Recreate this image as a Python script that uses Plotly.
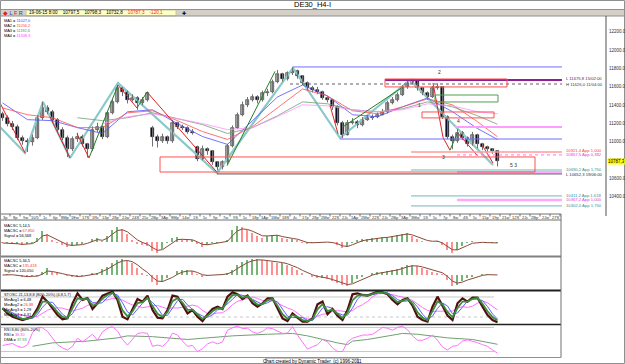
import plotly.graph_objects as go
import pandas as pd

W, H = 625, 364
def px(x): return x / W
def py(y): return 1 - y / H

# ---------------- data ----------------
closes = [
    11264, 11200, 11167, 11048, 11005, 10994, 11048, 11264, 11372, 11329,
    11243, 11135, 11048, 10919, 11027, 11059, 10973, 10919, 11135, 11167,
    11059, 11318, 11437, 11588, 11545, 11459, 11480, 11426, 11459, 11534,
    11059, 11005, 11059, 11005, 11210, 11167, 11156, 11113, 11102, 10811,
    10919, 10897, 10778, 10724, 10778, 10951, 11156, 11297, 11405, 11459,
    11491, 11459, 11534, 11545, 11653, 11740, 11686, 11750, 11772, 11718,
    11642, 11588, 11567, 11545, 11480, 11459, 11383, 11210, 11081, 11210,
    11221, 11189, 11243, 11264, 11275, 11297, 11329, 11426, 11459, 11513,
    11599, 11642, 11664, 11588, 11534, 11491, 11588, 11599, 11275, 11059,
    11005, 11102, 11048, 10973, 11081, 10973, 10940, 10919, 10897, 10787.3]
highs = [
    11330, 11290, 11230, 11190, 11070, 11040, 11080, 11290, 11440, 11400,
    11350, 11260, 11160, 11070, 11060, 11100, 11080, 10990, 11170, 11210,
    11180, 11340, 11470, 11620, 11600, 11560, 11520, 11500, 11490, 11550,
    11175, 11080, 11090, 11070, 11240, 11220, 11190, 11170, 11140, 10960,
    10960, 10940, 10910, 10790, 10800, 10980, 11180, 11320, 11440, 11490,
    11520, 11510, 11560, 11580, 11680, 11785, 11755, 11770, 11815, 11790,
    11730, 11660, 11610, 11600, 11560, 11500, 11470, 11400, 11230, 11240,
    11260, 11240, 11270, 11290, 11300, 11320, 11360, 11450, 11490, 11540,
    11620, 11670, 11690, 11680, 11600, 11550, 11610, 11640, 11610, 11290,
    11080, 11140, 11120, 11060, 11110, 11090, 10990, 10960, 10930, 10910]
lows = [
    11230, 11170, 11130, 11020, 10970, 10890, 10960, 11030, 11240, 11300,
    11210, 11100, 11020, 10835, 10900, 11000, 10950, 10830, 10900, 11110,
    11030, 11040, 11300, 11420, 11500, 11420, 11440, 11350, 11400, 11440,
    10950, 10940, 10990, 10980, 10990, 11140, 11130, 11090, 11080, 10790,
    10800, 10860, 10750, 10690, 10700, 10760, 10940, 11140, 11280, 11380,
    11440, 11420, 11440, 11500, 11530, 11640, 11660, 11670, 11730, 11690,
    11620, 11560, 11540, 11520, 11460, 11430, 11350, 11180, 11040, 11070,
    11190, 11150, 11170, 11230, 11240, 11260, 11290, 11310, 11410, 11440,
    11500, 11580, 11630, 11560, 11510, 11460, 11480, 11570, 11250, 11030,
    10920, 10990, 11020, 10950, 10960, 10930, 10910, 10890, 10870, 10733]
opens = [11300] + closes[:-1]
opens[30] = 11150   # gap down
opens[39] = 10950   # gap down
bars = list(range(len(closes)))

ma_idx = list(range(0, 100, 5)) + [99]
ma1 = [11426, 11243, 11232, 11156, 11092, 11329, 11351, 11200, 11059, 10973, 11232,
       11491, 11621, 11502, 11297, 11275, 11383, 11480, 11329, 11146, 11027]
ma2 = [11372, 11297, 11264, 11156, 11156, 11318, 11340, 11232, 11113, 11027, 11167,
       11372, 11578, 11502, 11340, 11308, 11383, 11470, 11405, 11221, 11056]
ma3_idx = list(range(15, 100, 5)) + [99]
ma3 = [11264, 11232, 11264, 11318, 11254, 11189, 11092, 11156, 11286, 11437, 11416,
       11351, 11329, 11362, 11437, 11383, 11286, 11193]
ma4_idx = list(range(20, 100, 5)) + [99]
ma4 = [11200, 11275, 11308, 11254, 11200, 11135, 11156, 11275, 11405, 11394, 11351,
       11329, 11351, 11416, 11394, 11329, 11308]

# swing (zig-zag) pivots
swing_x = [-0.5, 4.5, 8.1, 13.5, 23.1, 42.9, 58.1, 67.5, 81.5, 98.1]
swing_p = [11163, 10880, 11436, 10825, 11643, 10661, 11807, 11043, 11676, 10749]
down_legs = [[(-0.5, 11426), (4.5, 10880)], [(9.5, 11275), (13.5, 10825)],
             [(14.9, 11090), (17.3, 10825)], [(23.1, 11620), (26.9, 11370)],
             [(28.9, 11545), (42.9, 10670)], [(65.5, 11400), (67.1, 11090)],
             [(86.1, 11643), (88.1, 11050)], [(88.1, 11050), (89.5, 10910)],
             [(91.0, 11100), (95.0, 10850)], [(96.0, 10960), (98.1, 10770)]]
up_legs = [[(17.3, 10825), (23.1, 11620)], [(26.9, 11370), (28.9, 11545)],
           [(44.9, 10740), (54.5, 11770)], [(68.1, 11165), (80.1, 11600)],
           [(89.5, 10910), (91.0, 11100)]]

# horizontal levels: price, start bar, colour, width, dash
levels = [
    (11818, 58.1, '#6f6fff', 1, 'solid'),
    (11676, 76.5, '#902090', 2, 'solid'),
    (11632, 57.5, '#606060', 1, 'dot'),
    (11163, 90.5, '#ff9cff', 2, 'solid'),
    (11032, 67.5, '#6f6fff', 1, 'solid'),
    (10891, 81.7, '#ff9a9a', 1.5, 'solid'),
    (10858, 90.9, '#ff70ff', 1, 'dot'),
    (10694, 81.7, '#70b8b8', 1, 'solid'),
    (10672, 90.9, '#ffa8ff', 2, 'solid'),
    (10651, 42.9, '#505050', 1, 'solid'),
    (10411, 81.7, '#70b8b8', 1, 'solid'),
    (10367, 90.9, '#ffa8ff', 2.5, 'solid'),
    (10302, 81.7, '#70b8b8', 1, 'solid'),
]
level_end = 111.9
boxes = [  # x0, x1, p0, p1, colour
    (76.5, 100.9, 11600, 11687, '#ff5050'),
    (86.5, 99.1, 11436, 11512, '#50a050'),
    (83.9, 98.3, 11262, 11327, '#ff5050'),
    (31.5, 106.5, 10672, 10836, '#ff5050'),
]
right_labels = [
    ("L 11675,8 15/02:00", 11690, '#602060'),
    ("H 11626,0 11/04:00", 11630, '#404040'),
    ("10921,4 App 1,000", 10905, '#ff4040'),
    ("10857,5 App 0,382", 10858, '#e040e0'),
    ("10690,2 App 1,750", 10700, '#409090'),
    ("L 10652,3 19/06:00", 10648, '#303030'),
    ("10411,2 App 1,618", 10418, '#409090'),
    ("10367,2 App 1,000", 10367, '#e040e0'),
    ("10302,0 App 1,750", 10302, '#409090'),
]
wave_labels = [("2", 87.3, 11760), ("1", 83.3, 11400), ("4", 91.1, 11230),
               ("3", 88.1, 10835), ("5 3", 102.1, 10750)]

price_ticks = [10400, 10600, 10800, 11000, 11200, 11400, 11600, 11800, 12000, 12200]

# oscillators
macsc1 = [-25, -25, -50, -50, -75, -50, -25, 100, 275, 200,
          50, -25, -75, -125, -100, -75, -50, 0, 75, 100,
          25, 150, 300, 375, 325, 200, 50, -50, -75, -100,
          -225, -275, -175, -25, 100, 125, 75, 50, 50, -50,
          -125, -75, -25, -25, 0, 50, 300, 400, 375, 300,
          225, 150, 100, 150, 175, 175, 100, 75, 75, 50,
          -25, -50, -25, 0, 0, 0, -25, -75, -150, -125,
          -25, 50, 75, 75, 100, 100, 125, 125, 150, 175,
          200, 225, 150, 75, 25, 0, 0, 25, -75, -200,
          -275, -200, -100, -25, 25, 0, 0, -25, -25, -25]
macsc2 = [0, 25, 0, -25, -50, -50, -25, -25, 75, 175,
          75, 50, 0, -25, -50, -50, -25, 0, 50, 50,
          150, 200, 300, 375, 400, 375, 300, 175, 50, -25,
          -175, -250, -175, -75, 0, 100, 125, 125, 100, 25,
          -50, -25, 0, 0, 25, 50, 125, 250, 325, 375,
          400, 400, 375, 350, 325, 300, 300, 250, 200, 125,
          50, 0, -50, -75, -75, -100, -150, -200, -250, -275,
          -200, -100, -50, 0, 50, 75, 75, 100, 125, 150,
          200, 250, 250, 225, 175, 125, 75, 50, 25, -125,
          -275, -250, -150, -75, -50, 0, 25, 25, 0, 0]
stoch_k = [46, 31, 21, 16, 11, 16, 21, 46, 81, 66,
           46, 26, 13, 16, 61, 91, 71, 76, 44, 61,
           84, 91, 96, 71, 21, 13, 44, 74, 66, 84,
           41, 18, 16, 41, 84, 81, 56, 31, 41, 21,
           8, 28, 44, 51, 44, 81, 94, 88, 74, 84,
           61, 51, 61, 76, 76, 44, 16, 8, 31, 18,
           6, 6, 16, 58, 66, 28, 44, 24, 11, 41,
           88, 91, 86, 84, 91, 96, 94, 88, 71, 58,
           71, 76, 54, 21, 11, 6, 51, 81, 54, 24,
           11, 61, 76, 66, 78, 78, 51, 26, 11, 4]
rsi = [35, 37, 40, 33, 30, 37, 67, 80, 79, 70,
       53, 37, 29, 24, 33, 53, 44, 54, 63, 48,
       69, 78, 82, 71, 50, 36, 52, 65, 67, 65,
       33, 36, 33, 44, 66, 61, 46, 33, 35, 20,
       27, 39, 44, 39, 44, 73, 79, 83, 77, 78,
       69, 65, 70, 79, 77, 71, 65, 66, 82, 61,
       42, 26, 32, 37, 50, 44, 29, 20, 20, 44,
       53, 57, 61, 61, 63, 71, 80, 78, 73, 80,
       83, 74, 59, 48, 48, 53, 61, 48, 31, 24,
       33, 35, 46, 49, 46, 42, 37, 33, 24, 16]
dma_idx = [6, 10, 17, 23, 25, 30, 37, 40, 46, 53, 58, 61, 64, 67, 69, 70, 73, 77, 80, 83, 89, 94, 99]
dma = [33, 41.5, 46, 54, 59, 57, 50, 53, 59, 63, 65, 59, 50, 41.5, 37, 46, 50, 59, 65, 63, 54, 50, 38]

date_labels = ["3p", "8p", "9w", "10/5", "1c", "6p", "8Mp", "1Ew", "17S", "1Rc",
               "13p", "28p", "2Jw", "24S", "25c", "2Bp", "3Ap", "8Mp", "14w", "1S",
               "5c", "9p", "7w", "9S", "5c", "18p", "1Ap", "1Mw", "18S", "4c",
               "17p", "28p", "2Mw", "22S", "2Jc", "1Ap", "2Mw", "22S", "2Jc", "2Bp",
               "3Ap", "3Mw", "1S", "5c", "7p", "8w", "4S", "5c", "15p", "19p",
               "21w", "12S", "2Jc", "2Bp", "2Jw", "27S"]

# ---------------- figure ----------------
FONT = "Liberation Sans, Arial, sans-serif"
fig = go.Figure()
X1, X2 = (606 - 2.5) / 5, (561 - 2.5) / 5

# swing lines (teal, under candles)
fig.add_trace(go.Scatter(x=swing_x, y=swing_p, mode='lines', line=dict(color='#8cc8c8', width=2.2),
                         xaxis='x', yaxis='y', hoverinfo='skip'))
# candles: wicks + bodies
wx, wy = [], []
for i in bars:
    wx += [i, i, None]
    wy += [lows[i], highs[i], None]
fig.add_trace(go.Scatter(x=wx, y=wy, mode='lines', line=dict(color='#707070', width=1),
                         xaxis='x', yaxis='y', hoverinfo='skip'))
body_base = [min(o, c) for o, c in zip(opens, closes)]
body_len = [max(abs(c - o), 8) for o, c in zip(opens, closes)]
body_col = ['#b0b0b0' if c >= o else '#0c0c28' for o, c in zip(opens, closes)]
fig.add_trace(go.Bar(x=bars, y=body_len, base=body_base, width=0.42,
                     marker=dict(color=body_col, line=dict(color='#202020', width=0.6)),
                     xaxis='x', yaxis='y', hoverinfo='skip'))
for idx, vals, colr in [(ma_idx, ma1, '#5050ff'), (ma_idx, ma2, '#ff5050'),
                        (ma3_idx, ma3, '#70a070'), (ma4_idx, ma4, '#ff90ff')]:
    fig.add_trace(go.Scatter(x=idx, y=vals, mode='lines', line=dict(color=colr, width=0.8),
                             xaxis='x', yaxis='y', hoverinfo='skip'))

def legs_xy(legs):
    xs, ys = [], []
    for (a, b) in legs:
        xs += [a[0], b[0], None]
        ys += [a[1], b[1], None]
    return xs, ys
for legs, colr in [(down_legs, '#e02020'), (up_legs, '#208020')]:
    xs, ys = legs_xy(legs)
    fig.add_trace(go.Scatter(x=xs, y=ys, mode='lines', line=dict(color=colr, width=1),
                             xaxis='x', yaxis='y', hoverinfo='skip'))

# histogram oscillators
def osc(values, yaxis, span):
    s = pd.Series(values, dtype=float)
    colors = ['#78b478' if (i > 0 and s[i] >= s[i - 1]) else '#ff9090' for i in range(len(s))]
    fig.add_trace(go.Bar(x=bars, y=values, marker=dict(color=colors, line=dict(width=0)), width=0.36,
                         xaxis='x2', yaxis=yaxis, hoverinfo='skip'))
    sig = s.ewm(span=span, adjust=False).mean()
    fig.add_trace(go.Scatter(x=bars, y=sig, mode='lines', line=dict(color='#8a4a3a', width=1),
                             xaxis='x2', yaxis=yaxis, hoverinfo='skip'))
osc(macsc1, 'y2', 3)
osc(macsc2, 'y3', 3)

k = pd.Series(stoch_k, dtype=float)
fig.add_trace(go.Scatter(x=bars, y=k.rolling(6, min_periods=1).mean(), mode='lines',
                         line=dict(color='#ff70ff', width=1), xaxis='x2', yaxis='y4', hoverinfo='skip'))
fig.add_trace(go.Scatter(x=bars, y=k.rolling(3, min_periods=1).mean(), mode='lines',
                         line=dict(color='#6060ff', width=1), xaxis='x2', yaxis='y4', hoverinfo='skip'))
fig.add_trace(go.Scatter(x=bars, y=k, mode='lines', line=dict(color='#501010', width=2.2),
                         xaxis='x2', yaxis='y4', hoverinfo='skip'))
fig.add_trace(go.Scatter(x=bars, y=k.ewm(span=2, adjust=False).mean(), mode='lines',
                         line=dict(color='#3c8c3c', width=1.8), xaxis='x2', yaxis='y4', hoverinfo='skip'))

fig.add_trace(go.Scatter(x=dma_idx, y=dma, mode='lines', line=dict(color='#70a070', width=1),
                         xaxis='x2', yaxis='y5', hoverinfo='skip'))
fig.add_trace(go.Scatter(x=bars, y=rsi, mode='lines', line=dict(color='#ff70ff', width=1),
                         xaxis='x2', yaxis='y5', hoverinfo='skip'))

shapes = []
def pline(x0, y0, x1, y1, color='#808080', width=1, dash='solid'):
    shapes.append(dict(type='line', xref='paper', yref='paper', x0=px(x0), y0=py(y0), x1=px(x1), y1=py(y1),
                       line=dict(color=color, width=width, dash=dash), layer='above'))
def prect(x0, y0, x1, y1, fill, color=None):
    shapes.append(dict(type='rect', xref='paper', yref='paper', x0=px(x0), y0=py(y0), x1=px(x1), y1=py(y1),
                       fillcolor=fill, line=dict(color=color or fill, width=1 if color else 0), layer='below'))

# chrome
prect(0, 9.5, 625, 16, '#d4d0c8')
prect(26, 10, 176, 15.8, '#ffffc8', '#c8c8a0')
pline(0, 9.5, 625, 9.5, '#909090')
pline(0, 16, 625, 16, '#909090')
# oscillator levels
for lvl in (20, 80):
    shapes.append(dict(type='line', xref='paper', yref='y4', x0=0, x1=px(494), y0=lvl, y1=lvl,
                       line=dict(color='#c8c8c8', width=1, dash='dot' if lvl == 20 else 'solid'), layer='below'))
    shapes.append(dict(type='line', xref='paper', yref='y5', x0=0, x1=px(494), y0=lvl, y1=lvl,
                       line=dict(color='#c8c8c8', width=1), layer='below'))
# price levels and boxes
for p, x0, colr, wdt, dsh in levels:
    shapes.append(dict(type='line', xref='x', yref='y', x0=x0, x1=level_end, y0=p, y1=p,
                       line=dict(color=colr, width=wdt, dash=dsh)))
for x0, x1, p0, p1, colr in boxes:
    shapes.append(dict(type='rect', xref='x', yref='y', x0=x0, x1=x1, y0=p0, y1=p1,
                       line=dict(color=colr, width=1)))
# panel frames
pline(0, 214, 561, 214, '#707070')
pline(0, 220, 561, 220, '#707070')
pline(0, 256.5, 561, 256.5, '#808080', 2)
pline(0, 290.5, 561, 290.5, '#202020', 2)
pline(0, 324.5, 561, 324.5, '#202020', 1.5)
pline(0, 357.5, 561, 357.5, '#909090', 1)
pline(561, 214, 561, 357.5, '#707070', 1)
pline(606, 16, 606, 216, '#505050', 1)
for i in range(len(date_labels) + 1):
    shapes.append(dict(type='line', xref='x2', yref='paper', x0=2 * i - 0.5, x1=2 * i - 0.5,
                       y0=py(214), y1=py(216.5), line=dict(color='#707070', width=1)))
prect(266, 358, 358, 364, '#ffffff', '#909090')
shapes.append(dict(type='rect', xref='paper', yref='paper', x0=px(0.5), y0=py(363.5), x1=px(624.5), y1=py(0.5),
                   line=dict(color='#909090', width=1), layer='above'))

ann = []
def text(x, y, t, size=5, color='#000000', xanchor='left', xref='paper', yref='paper', bg=None, yanchor='middle'):
    d = dict(x=px(x) if xref == 'paper' else x, y=py(y) if yref == 'paper' else y, xref=xref, yref=yref,
             text=t, showarrow=False, xanchor=xanchor, yanchor=yanchor, align='left',
             font=dict(family=FONT, size=size, color=color), borderpad=0)
    if bg:
        d['bgcolor'] = bg
    ann.append(d)
def col(t, c): return f"<span style='color:{c}'>{t}</span>"

text(312, 4.5, "DE30_H4-I", size=7.5, xanchor='center')
text(1.5, 12.8, col("◆", '#e02020') + " " + col("L", '#2040c0') + " " + col("F", '#c02020') + " " + col("R", '#2040c0'), size=5.5)
text(28, 12.9, "19-06-15 8:00    10797,5    10798,3    10732,8    " + col("10787,3    -120,1", '#ff2020'), size=4.6)
text(181, 12.8, "✚", size=5)
text(3, 16.8, "<br>".join(["MA1 = " + col("11027,0", '#4040ff'), "MA2 = " + col("11056,2", '#ff4040'),
                           "MA3 = " + col("11192,6", '#40a040'), "MA4 = " + col("11308,3", '#ff40ff')]),
     size=3.9, yanchor='top')
for v in price_ticks:
    text(608, 0, f"{v:.1f}", size=4.5, color='#303030', yref='y')
    ann[-1]['y'] = v
text(607, 0, "10787,3", size=4.5, yref='y', bg='#ffff00')
ann[-1]['y'] = closes[-1]
for t, p, c in right_labels:
    text(565, 0, t, size=4.2, color=c, yref='y')
    ann[-1]['y'] = p
for t, b, p in wave_labels:
    text(b, 0, t, size=5, color='#303030', xref='x', yref='y', xanchor='center')
    ann[-1]['y'] = p
for i, lab in enumerate(date_labels):
    text(2 * i + 0.5, 217.3, lab, size=4, color='#303030', xref='x2', xanchor='center')

text(3, 222.3, "<br>".join(["MACSC 5,14,5", "MACSC = " + col("67,850", '#ff3030'), "Signal = 56,568"]),
     size=3.9, yanchor='top')
text(3, 257.3, "<br>".join(["MACSC 5,34,5", "MACSC = " + col("135,418", '#ff3030'), "Signal = 120,050"]),
     size=3.9, yanchor='top')
text(3, 291.0, "<br>".join(["STOSC 21,13,8,8 (80%-20%) (4,8,5,7)", "MinAvg1 = 6,48",
                            "MinAvg2 = " + col("26,88", '#ff3030'), "MinAvg3 = 1,29", "MinAvg4 = 4,31"]),
     size=3.9, yanchor='top')
text(3, 325.6, "<br>".join(["RSI 8,80 (80%-20%)", "RSI = " + col("36,30", '#ff40ff'),
                            "DMA = " + col("37,93", '#40a040')]),
     size=3.9, yanchor='top')
text(312, 361, "Chart created by Dynamic Trader  (c) 1996-2011", size=4.6, xanchor='center')

fig.update_layout(
    width=W, height=H, margin=dict(l=0, r=0, t=0, b=0), showlegend=False,
    paper_bgcolor='white', plot_bgcolor='white', bargap=0, barmode='overlay',
    shapes=shapes, annotations=ann,
    xaxis=dict(domain=[0, px(606)], range=[-0.5, X1], visible=False, anchor='y',
               rangeslider=dict(visible=False)),
    yaxis=dict(domain=[py(216), py(16)], range=[10192, 12374], anchor='x', visible=False),
    xaxis2=dict(domain=[0, px(561)], range=[-0.5, X2], visible=False, anchor='y2'),
    yaxis2=dict(domain=[py(256), py(220)], range=[-350, 550], visible=False, anchor='x2'),
    yaxis3=dict(domain=[py(290), py(257)], range=[-375, 450], visible=False, anchor='x2'),
    yaxis4=dict(domain=[py(324), py(290)], range=[-0.9, 100.9], visible=False, anchor='x2'),
    yaxis5=dict(domain=[py(357), py(324)], range=[6.4, 88.5], visible=False, anchor='x2'),
)
fig.write_html("out.html")
